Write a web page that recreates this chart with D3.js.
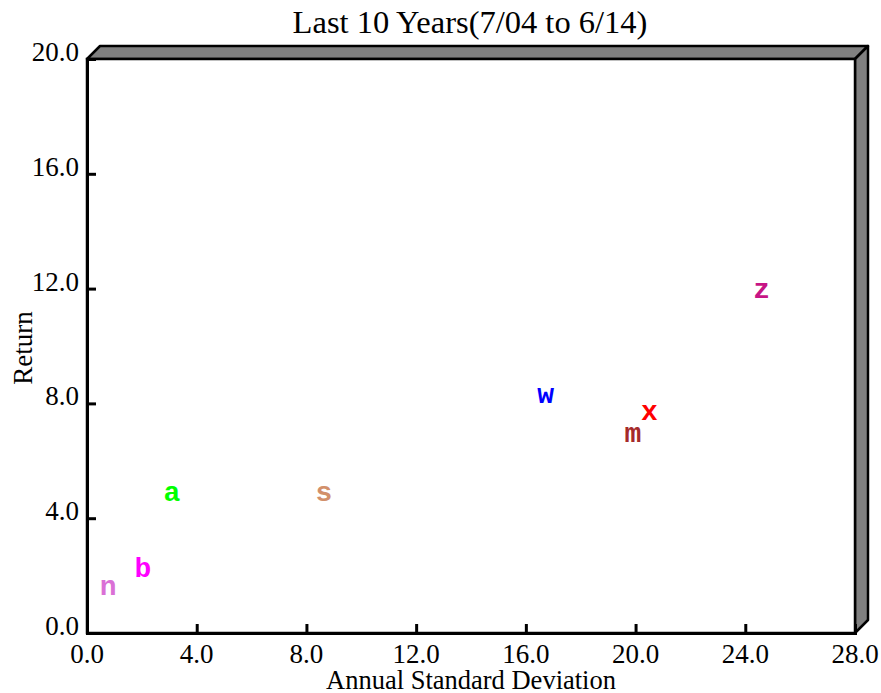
<!DOCTYPE html>
<html><head><meta charset="utf-8">
<script src="https://cdn.jsdelivr.net/npm/d3@7"></script>
<style>body{margin:0;background:#fff;} svg{display:block;}</style>
</head><body>
<svg id="c" width="881" height="693"></svg>
<script>
const labels = ["n","b","a","s","w","x","m","z"];
const sdValues = [0.77, 2.04, 3.10, 8.64, 16.72, 20.50, 19.90, 24.60];
const returnValues = [1.59, 2.23, 4.88, 4.88, 8.26, 7.70, 6.92, 11.92];
const colors = ["#DA70D6","#FF00FF","#00FF00","#D2906B","#0000FF","#FF0000","#A52A2A","#C71585"];
const xTicks = [0,4,8,12,16,20,24,28];
const yTicks = [0,4,8,12,16,20];
const title = "Last 10 Years(7/04 to 6/14)";
const xTitle = "Annual Standard Deviation";
const yTitle = "Return";

const svg = d3.select("#c");
const L=87, T=59, R=855, B=633, D=13;
const x = d3.scaleLinear().domain([0,28]).range([L,R]);
const y = d3.scaleLinear().domain([0,20]).range([B,T]);
const serif = "'Liberation Serif','Times New Roman',serif";

// 3D frame: top and right panels
svg.append("path")
  .attr("d", `M${L},${T} L${L+D},${T-D} L${R+D},${T-D} L${R},${T} Z`)
  .attr("fill","#808080").attr("stroke","#000").attr("stroke-width",2.5).attr("stroke-linejoin","round");
svg.append("path")
  .attr("d", `M${R},${T} L${R+D},${T-D} L${R+D},${B-D} L${R},${B} Z`)
  .attr("fill","#808080").attr("stroke","#000").attr("stroke-width",2.5).attr("stroke-linejoin","round");
svg.append("rect").attr("x",L).attr("y",T).attr("width",R-L).attr("height",B-T)
  .attr("fill","#fff").attr("stroke","#000").attr("stroke-width",2.5);

// axes
const xAxis = d3.axisTop(x).tickValues(xTicks).tickSize(9).tickFormat("");
const yAxis = d3.axisRight(y).tickValues(yTicks).tickSize(9).tickFormat("");
const gx = svg.append("g").attr("transform",`translate(0,${B})`).call(xAxis);
const gy = svg.append("g").attr("transform",`translate(${L},0)`).call(yAxis);
[gx,gy].forEach(g=>{
  g.select(".domain").attr("stroke","#000").attr("stroke-width",3);
  g.selectAll(".tick line").attr("stroke","#000").attr("stroke-width",3);
});
gx.selectAll(".tick").filter(d=>d===28).remove();
gy.selectAll(".tick").filter(d=>d===20).remove();

// tick labels
svg.append("g").selectAll("text").data(xTicks).join("text")
  .attr("x",d=>x(d)).attr("y",B+30).attr("text-anchor","middle")
  .attr("font-family",serif).attr("font-size",27).attr("fill","#000")
  .text(d=>d3.format(".1f")(d));
svg.append("g").selectAll("text").data(yTicks).join("text")
  .attr("x",L-8).attr("y",d=>y(d)+2).attr("text-anchor","end")
  .attr("font-family",serif).attr("font-size",27).attr("fill","#000")
  .text(d=>d3.format(".1f")(d));

// titles
svg.append("text").attr("x",470).attr("y",33).attr("text-anchor","middle")
  .attr("font-family",serif).attr("font-size",32.5).attr("fill","#000").text(title);
svg.append("text").attr("x",471).attr("y",689).attr("text-anchor","middle")
  .attr("font-family",serif).attr("font-size",26.5).attr("fill","#000").text(xTitle);
svg.append("text").attr("transform","translate(32,348) rotate(-90)").attr("text-anchor","middle")
  .attr("font-family",serif).attr("font-size",27).attr("fill","#000").text(yTitle);

// points as letters
svg.append("g").selectAll("text").data(labels).join("text")
  .attr("x",(d,i)=>x(sdValues[i])).attr("y",(d,i)=>y(returnValues[i]))
  .attr("dy","0.27em").attr("text-anchor","middle")
  .attr("font-family","'Courier New','Liberation Mono',monospace").attr("font-weight","bold")
  .attr("font-size",28).attr("fill",(d,i)=>colors[i]).text(d=>d);
</script>
</body></html>
